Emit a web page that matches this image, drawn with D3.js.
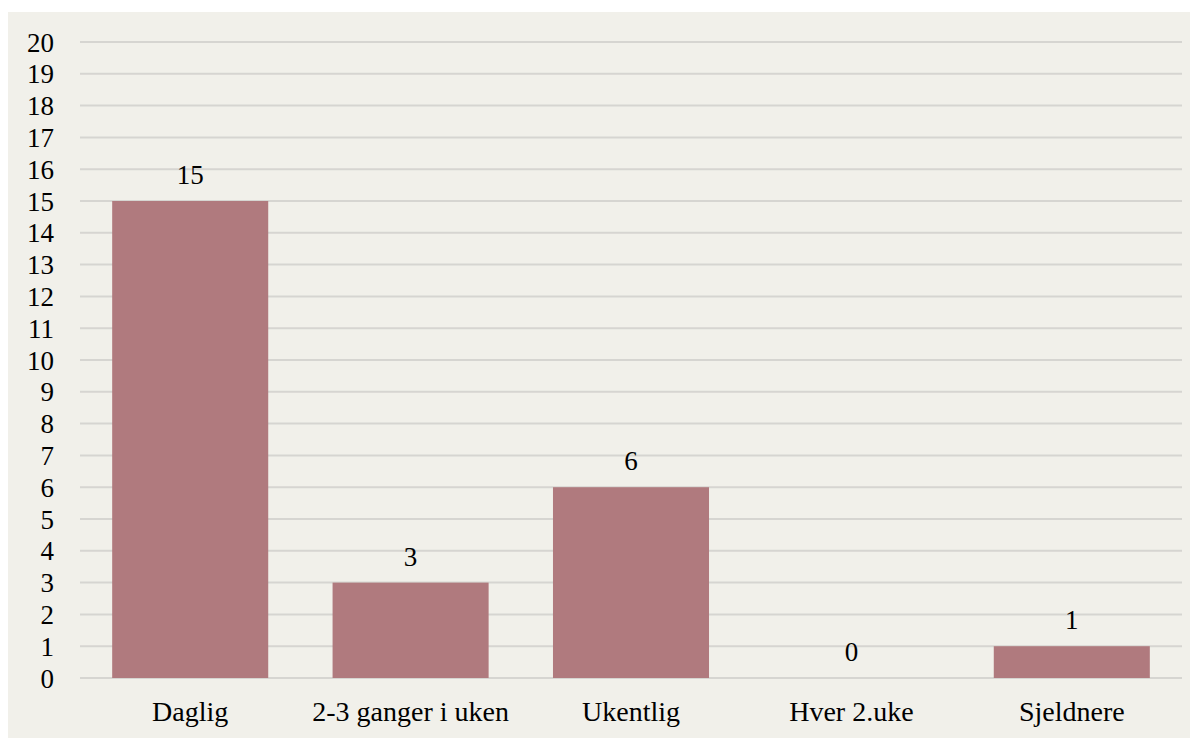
<!DOCTYPE html>
<html>
<head>
<meta charset="utf-8">
<script src="https://cdn.jsdelivr.net/npm/d3@7"></script>
<style>
  body { margin: 0; background: #fff; }
  text { font-family: "Liberation Serif", "Times New Roman", serif; fill: #000; }
</style>
</head>
<body>
<div id="chart"></div>
<script>
var categories = ["Daglig", "2-3 ganger i uken", "Ukentlig", "Hver 2.uke", "Sjeldnere"]
var values = [15, 3, 6, 0, 1]
var yTicks = d3.range(0, 21)

var svg = d3.select("#chart")
    .append("svg")
    .attr("width", 1196)
    .attr("height", 738)

// panel background
svg.append("rect")
    .attr("x", 8).attr("y", 12)
    .attr("width", 1182).attr("height", 726)
    .attr("fill", "#f1f0ea")

var plotLeft = 80, plotRight = 1182, plotTop = 42, plotBottom = 678

var x = d3.scaleBand()
    .domain(categories)
    .range([plotLeft, plotRight])
    .paddingInner(0.292)
    .paddingOuter(0.146)

var y = d3.scaleLinear()
    .domain([0, 20])
    .range([plotBottom, plotTop])

// gridlines
svg.append("g")
  .selectAll("line")
  .data(yTicks)
  .enter().append("line")
    .attr("x1", plotLeft).attr("x2", plotRight)
    .attr("y1", d => y(d)).attr("y2", d => y(d))
    .attr("stroke", "#d6d5d1")
    .attr("stroke-width", 2)

// y axis labels
var yAxis = d3.axisLeft(y).tickValues(yTicks).tickSize(0).tickPadding(0)
var ya = svg.append("g").attr("transform", "translate(54,0)").call(yAxis)
ya.select(".domain").remove()
ya.selectAll("text")
    .style("font-family", "Liberation Serif, serif")
    .style("font-size", "27px")
    .attr("fill", "#000")
    .attr("dy", "0.34em")

// bars
svg.append("g")
  .selectAll("rect")
  .data(values)
  .enter().append("rect")
    .attr("x", (d, i) => x(categories[i]))
    .attr("width", x.bandwidth())
    .attr("y", d => y(d))
    .attr("height", d => y(0) - y(d))
    .attr("fill", "#b07a7e")

// value labels
svg.append("g")
  .selectAll("text")
  .data(values)
  .enter().append("text")
    .attr("x", (d, i) => x(categories[i]) + x.bandwidth() / 2)
    .attr("y", d => y(d) - 17)
    .attr("text-anchor", "middle")
    .style("font-size", "27px")
    .text(d => d)

// category labels
var xAxis = d3.axisBottom(x).tickSize(0).tickPadding(0)
var xa = svg.append("g").attr("transform", "translate(0,721)").call(xAxis)
xa.select(".domain").remove()
xa.selectAll("text")
    .style("font-family", "Liberation Serif, serif")
    .style("font-size", "28px")
    .attr("fill", "#000")
    .attr("dy", 0)
    .attr("y", 0)
</script>
</body>
</html>
